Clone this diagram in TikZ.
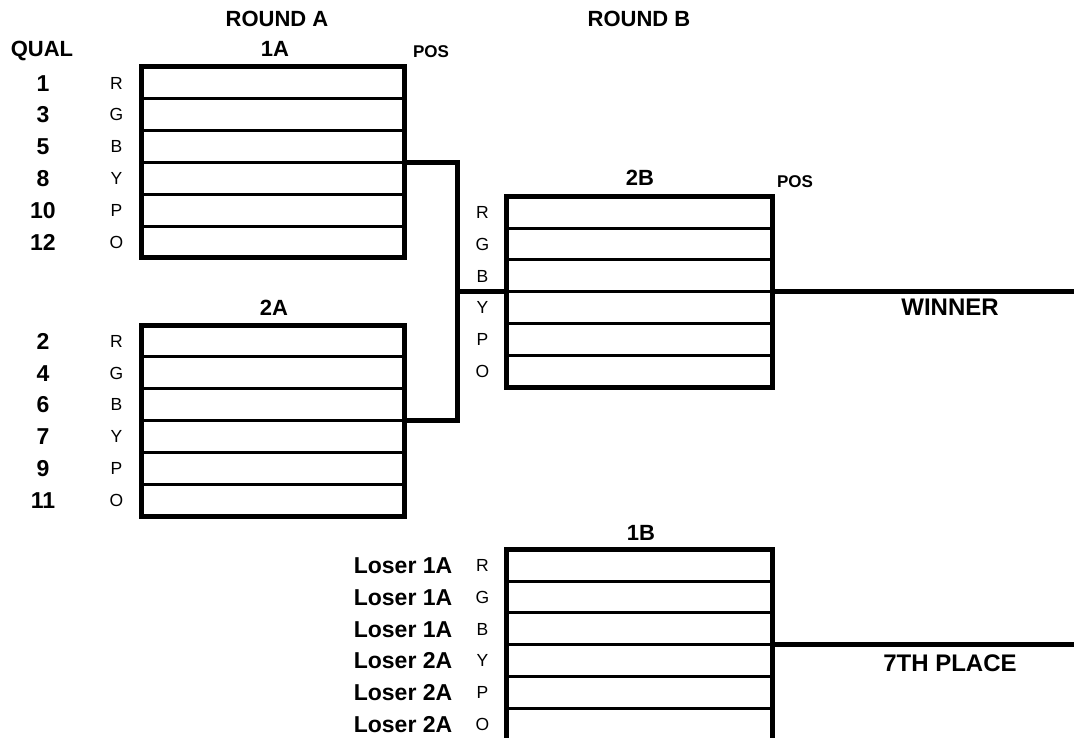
\documentclass[tikz,border=0pt]{standalone}
\usepackage{fontspec}
\setmainfont{Liberation Sans}
\usetikzlibrary{calc}
\begin{document}
\begin{tikzpicture}[x=1pt,y=-1pt,
  box/.style={draw, line width=5pt, minimum height=191pt, inner sep=0pt, outer sep=0pt},
  boxA/.style={box, minimum width=263.5pt},
  boxB/.style={box, minimum width=266.5pt},
  rowline/.style={line width=3pt},
  link/.style={line width=4.8pt},
  big/.style={font=\fontsize{22}{26}\selectfont\bfseries, inner sep=0pt, text height=15.8pt, text depth=0pt},
  num/.style={font=\fontsize{23}{27}\selectfont\bfseries, inner sep=0pt, text height=16.5pt, text depth=0pt},
  loser/.style={font=\fontsize{23}{27}\selectfont\bfseries, inner sep=0pt, text height=16.5pt, text depth=0pt},
  result/.style={font=\fontsize{24}{28}\selectfont\bfseries, inner sep=0pt, text height=17.2pt, text depth=0pt},
  poslbl/.style={font=\fontsize{17}{20}\selectfont\bfseries, inner sep=0pt, text height=12.2pt, text depth=0pt},
  slot/.style={font=\fontsize{17.5}{21}\selectfont, inner sep=0pt, text height=12.5pt, text depth=0pt}]
\useasboundingbox (0,0) rectangle (1074,738);

% boxes
\node[boxA] (A1) at (273.2,162.5) {};
\node[boxA] (A2) at (273.2,420.5) {};
\node[boxB] (B2) at (639.3,291.7) {};
\node[boxB] (B1) at (639.3,644.8) {};

% row separators
\foreach \b in {A1,A2,B2,B1}{
  \foreach \i in {1,...,5}{
    \draw[rowline] ($(\b.north west)!{\i/6}!(\b.south west)$) -- ($(\b.north east)!{\i/6}!(\b.south east)$);
  }
}

% connectors
\coordinate (J) at (457.5,291.7);
\coordinate (R) at (1080,0);
\draw[link] (A1.east) -| (J) |- (A2.east);
\draw[link] (J) -- (B2.west);
\draw[link] (B2.east) -- (B2.east -| R);
\draw[link] (B1.east) -- (B1.east -| R);

% titles
\node[big] (ra) at (277,19) {ROUND A};
\node[big] (rb) at (639,19) {ROUND B};
\node[big] (qual) at (42,49) {QUAL};
\node[big] (t1a) at (275,49) {1A};
\node[poslbl] (pos1) at (431,51) {POS};
\node[big] (t2b) at (640,178) {2B};
\node[poslbl] (pos2) at (795,181) {POS};
\node[big] (t2a) at (274,308) {2A};
\node[big] (t1b) at (641,532.5) {1B};
\node[result] (win) at (950,307) {WINNER};
\node[result] (sev) at (950,662.5) {7TH PLACE};

% slot labels, box 1A
\foreach \n/\c/\k in {1/R/1,3/G/2,5/B/3,8/Y/4,10/P/5,12/O/6}{
  \node[num] (qa\k) at ($(A1.north west)!{(\k-0.5)/6}!(A1.south west) + (-98.5,0)$) {\n};
  \node[slot] (la\k) at ($(A1.north west)!{(\k-0.5)/6}!(A1.south west) + (-25,0)$) {\c};
}
% box 2A
\foreach \n/\c/\k in {2/R/1,4/G/2,6/B/3,7/Y/4,9/P/5,11/O/6}{
  \node[num] (qb\k) at ($(A2.north west)!{(\k-0.5)/6}!(A2.south west) + (-98.5,0)$) {\n};
  \node[slot] (lb\k) at ($(A2.north west)!{(\k-0.5)/6}!(A2.south west) + (-25,0)$) {\c};
}
% box 2B
\foreach \c/\k in {R/1,G/2,B/3,Y/4,P/5,O/6}{
  \node[slot] (lc\k) at ($(B2.north west)!{(\k-0.5)/6}!(B2.south west) + (-23.5,0)$) {\c};
}
% box 1B
\foreach \n/\c/\k in {1A/R/1,1A/G/2,1A/B/3,2A/Y/4,2A/P/5,2A/O/6}{
  \node[loser] (qd\k) at ($(B1.north west)!{(\k-0.5)/6}!(B1.south west) + (-103,0)$) {Loser \n};
  \node[slot] (ld\k) at ($(B1.north west)!{(\k-0.5)/6}!(B1.south west) + (-23.5,0)$) {\c};
}
\end{tikzpicture}
\end{document}
